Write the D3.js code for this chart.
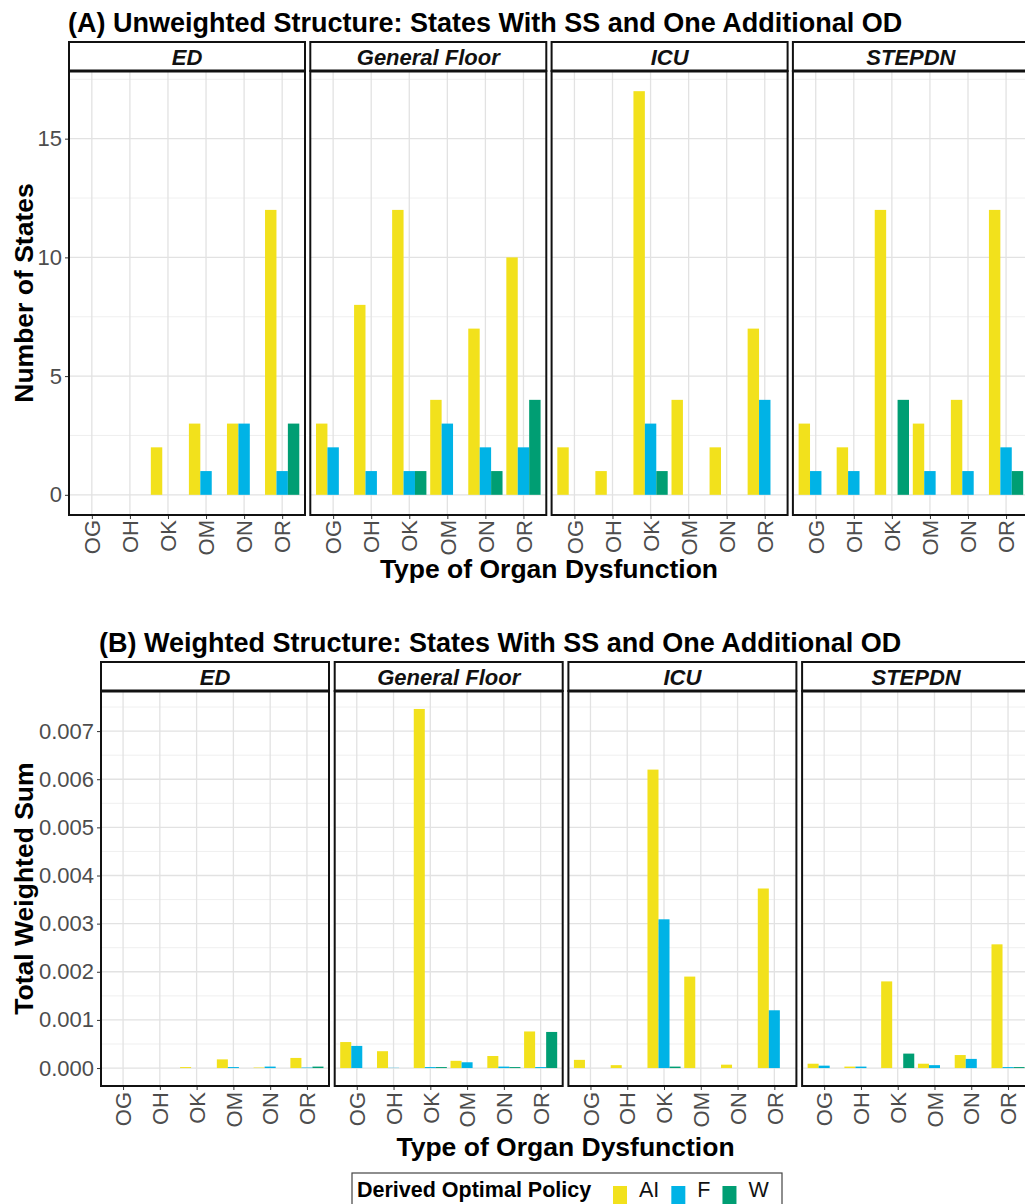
<!DOCTYPE html>
<html>
<head>
<meta charset="utf-8">
<script src="https://cdn.jsdelivr.net/npm/d3@7"></script>
<style>
  body { margin: 0; background: #fff; overflow: hidden; }
  svg { display: block; font-family: "Liberation Sans", Arial, sans-serif; }
</style>
</head>
<body>
<div id="chart"></div>
<script>
// Organ dysfunction facets, A = counts, B = weighted sums

const organs = ['OG', 'OH', 'OK', 'OM', 'ON', 'OR']
const units = ['ED', 'General Floor', 'ICU', 'STEPDN']
const policies = ['AI', 'F', 'W']
const policyColors = ['#F2E11C', '#00B3E6', '#009E73']

// per organ: [AI, F, W]
const countED = [[0, 0, 0], [0, 0, 0], [2, 0, 0], [3, 1, 0], [3, 3, 0], [12, 1, 3]]
const countGF = [[3, 2, 0], [8, 1, 0], [12, 1, 1], [4, 3, 0], [7, 2, 1], [10, 2, 4]]
const countICU = [[2, 0, 0], [1, 0, 0], [17, 3, 1], [4, 0, 0], [2, 0, 0], [7, 4, 0]]
const countSTEP = [[3, 1, 0], [2, 1, 0], [12, 0, 4], [3, 1, 0], [4, 1, 0], [12, 2, 1]]

const weightED = [[0, 0, 0], [0, 0, 0], [0.00002, 0, 0], [0.00018, 0.00002, 0], [0.00001, 0.00003, 0], [0.00021, 0.00001, 0.00003]]
const weightGF = [[0.00054, 0.00046, 0], [0.00035, 0.000005, 0], [0.00746, 0.00002, 0.00002], [0.00015, 0.00012, 0], [0.00025, 0.00003, 0.00002], [0.00076, 0.00002, 0.00075]]
const weightICU = [[0.00017, 0, 0], [0.00006, 0, 0], [0.0062, 0.00309, 0.00003], [0.0019, 0, 0], [0.00007, 0, 0], [0.00373, 0.0012, 0]]
const weightSTEP = [[0.00009, 0.00005, 0], [0.00003, 0.00003, 0], [0.0018, 0, 0.0003], [0.00009, 0.00006, 0], [0.00027, 0.00019, 0], [0.00257, 0.00002, 0.00002]]

const countTicks = [0, 5, 10, 15]
const weightTicks = [0, 0.001, 0.002, 0.003, 0.004, 0.005, 0.006, 0.007]

const width = 1025
const height = 1204

const svg = d3.select('#chart')
  .append('svg')
  .attr('width', width)
  .attr('height', height)

// turn a facet matrix into flat rows
const toRows = (mat) => {
  let rows = []
  mat.forEach((vals, i) => {
    vals.forEach((v, j) => {
      if (v > 0) rows.push({ organ: organs[i], policy: policies[j], value: v })
    })
  })
  return rows
}

const drawBlock = (cfg) => {
  const g = svg.append('g')

  // block title
  g.append('text')
    .attr('x', cfg.titleX)
    .attr('y', cfg.titleY)
    .attr('font-size', 27)
    .attr('font-weight', 'bold')
    .attr('fill', '#000')
    .text(cfg.title)

  const maxV = d3.max(cfg.data.flat(2))
  const y = d3.scaleLinear()
    .domain([-0.05 * maxV, 1.05 * maxV])
    .range([cfg.panelBot, cfg.stripBot])

  cfg.data.forEach((mat, k) => {
    const left = cfg.panelLeft + k * cfg.panelStep
    const right = left + cfg.panelW
    const p = g.append('g')

    const x = d3.scalePoint()
      .domain(organs)
      .range([left, right])
      .padding(0.6)
    const dodge = d3.scaleBand()
      .domain(policies)
      .range([-0.45 * x.step(), 0.45 * x.step()])

    // grid: minor then major
    p.selectAll('line.minor')
      .data(cfg.minor)
      .enter()
      .append('line')
      .attr('x1', left).attr('x2', right)
      .attr('y1', d => y(d)).attr('y2', d => y(d))
      .attr('stroke', '#EDEDED')
      .attr('stroke-width', 0.9)

    p.selectAll('line.hmajor')
      .data(cfg.ticks)
      .enter()
      .append('line')
      .attr('x1', left).attr('x2', right)
      .attr('y1', d => y(d)).attr('y2', d => y(d))
      .attr('stroke', '#E2E2E2')
      .attr('stroke-width', 1.3)

    p.selectAll('line.vmajor')
      .data(organs)
      .enter()
      .append('line')
      .attr('x1', d => x(d)).attr('x2', d => x(d))
      .attr('y1', cfg.stripBot).attr('y2', cfg.panelBot)
      .attr('stroke', '#E2E2E2')
      .attr('stroke-width', 1.3)

    // bars
    p.selectAll('rect.bar')
      .data(toRows(mat))
      .enter()
      .append('rect')
      .attr('x', d => x(d.organ) + dodge(d.policy))
      .attr('width', dodge.bandwidth())
      .attr('y', d => y(d.value))
      .attr('height', d => y(0) - y(d.value))
      .attr('fill', d => policyColors[policies.indexOf(d.policy)])

    // panel border
    p.append('rect')
      .attr('x', left).attr('y', cfg.stripBot)
      .attr('width', cfg.panelW).attr('height', cfg.panelBot - cfg.stripBot)
      .attr('fill', 'none')
      .attr('stroke', '#111')
      .attr('stroke-width', 2)

    // strip
    p.append('rect')
      .attr('x', left).attr('y', cfg.stripTop)
      .attr('width', cfg.panelW).attr('height', cfg.stripBot - cfg.stripTop)
      .attr('fill', '#fff')
      .attr('stroke', '#111')
      .attr('stroke-width', 2)
    p.append('line')
      .attr('x1', left).attr('x2', right)
      .attr('y1', cfg.stripBot).attr('y2', cfg.stripBot)
      .attr('stroke', '#111')
      .attr('stroke-width', 3)
    p.append('text')
      .attr('x', (left + right) / 2)
      .attr('y', cfg.stripBot - 6.5)
      .attr('text-anchor', 'middle')
      .attr('font-size', 22)
      .attr('font-weight', 'bold')
      .attr('font-style', 'italic')
      .attr('fill', '#111')
      .text(units[k])

    // x axis
    const xAxis = p.append('g')
      .attr('transform', `translate(0, ${cfg.panelBot + 1})`)
      .call(d3.axisBottom(x).tickSize(3).tickSizeOuter(0))
    xAxis.select('.domain').remove()
    xAxis.selectAll('line').attr('stroke', '#333')
    xAxis.selectAll('text')
      .attr('transform', 'rotate(-90)')
      .attr('x', -cfg.xLabOff)
      .attr('y', 0)
      .attr('dy', '0.35em')
      .attr('text-anchor', 'end')
      .attr('font-size', 22)
      .attr('font-family', '"Liberation Sans", Arial, sans-serif')
      .attr('fill', '#4D4D4D')

    // y axis only on first panel
    if (k === 0) {
      const yAxis = p.append('g')
        .attr('transform', `translate(${left - 1}, 0)`)
        .call(d3.axisLeft(y).tickValues(cfg.ticks).tickFormat(cfg.fmt).tickSize(3).tickPadding(3))
      yAxis.select('.domain').remove()
      yAxis.selectAll('line').attr('stroke', '#333')
      yAxis.selectAll('text')
        .attr('font-size', 22)
        .attr('font-family', '"Liberation Sans", Arial, sans-serif')
        .attr('fill', '#4D4D4D')
    }
  })

  // axis titles
  const lastRight = cfg.panelLeft + 3 * cfg.panelStep + cfg.panelW
  g.append('text')
    .attr('x', (cfg.panelLeft + lastRight) / 2)
    .attr('y', cfg.xTitleY)
    .attr('text-anchor', 'middle')
    .attr('font-size', 26.5)
    .attr('font-weight', 'bold')
    .text('Type of Organ Dysfunction')

  g.append('text')
    .attr('transform', `translate(33, ${(cfg.stripBot + cfg.panelBot) / 2}) rotate(-90)`)
    .attr('text-anchor', 'middle')
    .attr('font-size', 26.5)
    .attr('font-weight', 'bold')
    .text(cfg.yTitle)
}

drawBlock({
  title: '(A) Unweighted Structure: States With SS and One Additional OD',
  titleX: 68, titleY: 31.5,
  panelLeft: 69, panelStep: 241.3, panelW: 236,
  stripTop: 42, stripBot: 71, panelBot: 515,
  data: [countED, countGF, countICU, countSTEP],
  ticks: countTicks,
  minor: [2.5, 7.5, 12.5, 17.5],
  fmt: d3.format('d'),
  xLabOff: 4,
  xTitleY: 578,
  yTitle: 'Number of States'
})

drawBlock({
  title: '(B) Weighted Structure: States With SS and One Additional OD',
  titleX: 99, titleY: 651.5,
  panelLeft: 101, panelStep: 233.7, panelW: 228,
  stripTop: 662, stripBot: 691, panelBot: 1086,
  data: [weightED, weightGF, weightICU, weightSTEP],
  ticks: weightTicks,
  minor: [0.0005, 0.0015, 0.0025, 0.0035, 0.0045, 0.0055, 0.0065, 0.0075],
  fmt: d3.format('.3f'),
  xLabOff: 5,
  xTitleY: 1156,
  yTitle: 'Total Weighted Sum'
})

// legend
const legend = svg.append('g').attr('id', 'legend')
legend.append('rect')
  .attr('x', 352).attr('y', 1173)
  .attr('width', 430).attr('height', 44)
  .attr('fill', '#fff')
  .attr('stroke', '#444')
  .attr('stroke-width', 1.2)
legend.append('text')
  .attr('x', 357)
  .attr('y', 1197)
  .attr('font-size', 21.5)
  .attr('font-weight', 'bold')
  .text('Derived Optimal Policy')

let keyX = 613
policies.forEach((pol, i) => {
  legend.append('rect')
    .attr('x', keyX).attr('y', 1186)
    .attr('width', 14).attr('height', 18)
    .attr('fill', policyColors[i])
  const t = legend.append('text')
    .attr('x', keyX + 26)
    .attr('y', 1197)
    .attr('font-size', 21.5)
    .attr('fill', '#111')
    .text(pol)
  keyX = keyX + 26 + t.node().getComputedTextLength() + 12
})
</script>
</body>
</html>
